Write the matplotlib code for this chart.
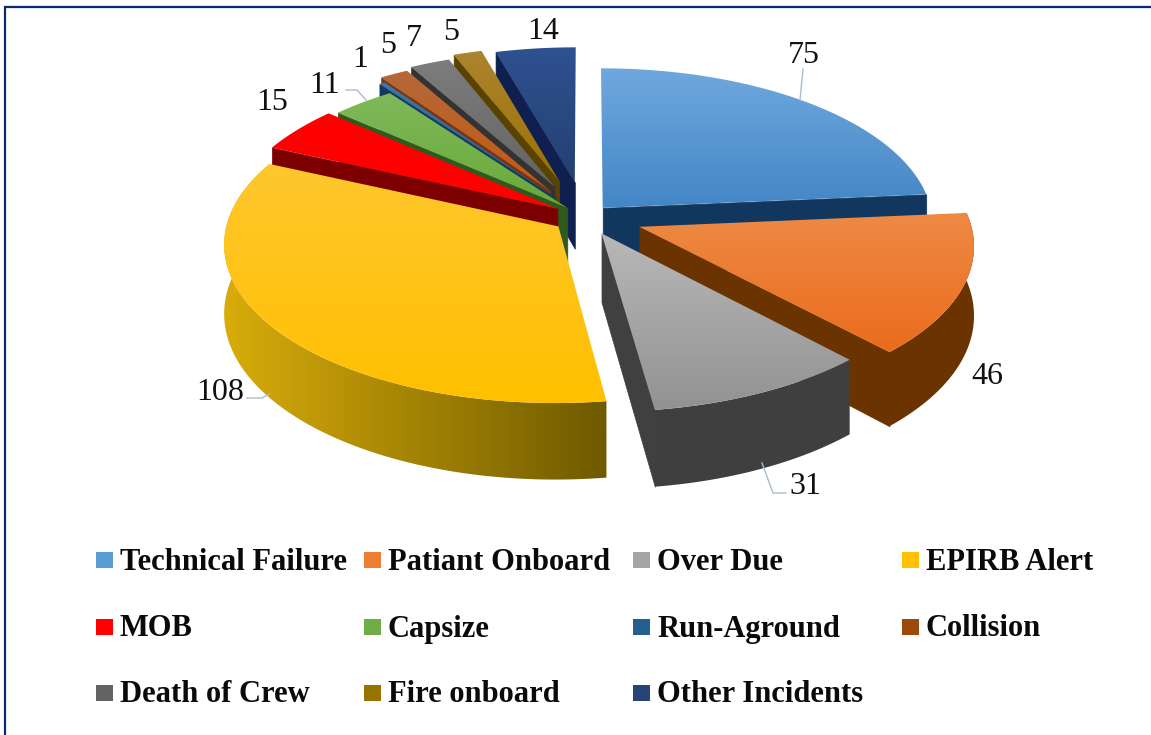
import numpy as np
import matplotlib
matplotlib.use("Agg")
import matplotlib.pyplot as plt
from matplotlib.colors import LinearSegmentedColormap
from matplotlib.patches import Polygon, Rectangle
from matplotlib.collections import PolyCollection

# ---- data ----
categories = ["Technical Failure", "Patiant Onboard", "Over Due", "EPIRB Alert", "MOB", "Capsize",
              "Run-Aground", "Collision", "Death of Crew", "Fire onboard", "Other Incidents"]
values = [75, 46, 31, 108, 15, 11, 1, 5, 7, 5, 14]

# ---- styling ----
explode = [0.08, 0.175, 0.115, 0.10, 0.10, 0.08, 0.16, 0.20, 0.22, 0.25, 0.23]
top_light = ["#6fa8de", "#ee8a45", "#b8b8b8", "#ffc72e", "#ff0000", "#7fb95a", "#3a78b0", "#b5683a", "#7d7d7d", "#ac8430", "#2f5190"]
top_dark = ["#4486c6", "#ea6c1c", "#929292", "#ffc000", "#ff0000", "#6aa838", "#255e91", "#c55a11", "#636363", "#9c7200", "#234072"]
side_left = ["#12375f", "#6b3300", "#3f3f3f", "#d8ac0a", "#7c0000", "#2f5a1e", "#123a5f", "#7a350c", "#333333", "#5a4200", "#0f1f4f"]
side_right = ["#12375f", "#6b3300", "#404040", "#6f5a00", "#7c0000", "#2f5a1e", "#123a5f", "#7a350c", "#333333", "#5a4200", "#0f1f4f"]
legend_colors = ["#5b9bd5", "#ed7d31", "#a5a5a5", "#ffc000", "#ff0000", "#70ad47", "#255e91", "#9e480e", "#636363", "#997300", "#264478"]
draw_order = [10, 9, 8, 7, 6, 5, 4, 0, 1, 2, 3]

CX, CY, RX, RY, K, DEPTH = 585, 217, 330, 156, 0.105, 68

label_pos = [(804, 53), (987, 374), (805, 484), (220, 390), (272, 100), (325, 83),
             (360, 57), (388, 43), (414, 36), (451, 30), (543, 29)]
leaders = [[(800, 100), (803, 69)], [(762, 463), (773, 493), (786, 493)],
           [(247, 398), (262, 398), (269, 394)], [(346, 90), (357, 90), (366, 100)]]
legend_cols = [96, 364, 633, 902]
legend_rows = [560, 627, 693]

serif = "Liberation Serif"
fig = plt.figure(figsize=(11.51, 7.35), dpi=100)
ax = fig.add_axes([0, 0, 1, 1])
ax.set_xlim(0, 1151)
ax.set_ylim(735, 0)
ax.axis("off")


def project(px, py, z=0.0):
    w = 1 + K * py
    return CX + RX * px / w, CY - RY * py / w + z * DEPTH / w


def fill_gradient(pts, c1, c2, horizontal, zorder):
    patch = Polygon(pts, closed=True, facecolor="none", edgecolor="none", zorder=zorder)
    ax.add_patch(patch)
    cmap = LinearSegmentedColormap.from_list("g", [c1, c2])
    grad = np.linspace(0, 1, 128)
    grad = grad.reshape(1, -1) if horizontal else grad.reshape(-1, 1)
    im = ax.imshow(grad, cmap=cmap, aspect="auto", zorder=zorder, interpolation="bilinear",
                   extent=(pts[:, 0].min(), pts[:, 0].max(), pts[:, 1].max(), pts[:, 1].min()))
    im.set_clip_path(patch)


fractions = np.array(values, float) / sum(values)
edges = np.concatenate([[0], np.cumsum(fractions)]) * 2 * np.pi
z = 1
for i in draw_order:
    a0, a1 = edges[i], edges[i + 1]
    mid = (a0 + a1) / 2
    ox, oy = explode[i] * np.sin(mid), explode[i] * np.cos(mid)
    ang = np.linspace(a0, a1, max(4, int((a1 - a0) * 60)))
    px, py = ox + np.sin(ang), oy + np.cos(ang)
    tx, ty = project(px, py)
    bx, by = project(px, py, 1)
    apx, apy = project(ox, oy)
    abx, aby = project(ox, oy, 1)
    # cut faces that turn toward the viewer
    faces = []
    if np.sin(a0) < -1e-6:
        faces.append([(apx, apy), (tx[0], ty[0]), (bx[0], by[0]), (abx, aby)])
    if np.sin(a1) > 1e-6:
        faces.append([(apx, apy), (tx[-1], ty[-1]), (bx[-1], by[-1]), (abx, aby)])
    if faces:
        ax.add_collection(PolyCollection(faces, facecolors=side_right[i], edgecolors=side_right[i],
                                         linewidths=0.5, zorder=z))
    z += 1
    # outer wall
    if np.min(np.cos(ang)) < 0.05:
        wall = np.column_stack([np.r_[tx, bx[::-1]], np.r_[ty, by[::-1]]])
        fill_gradient(wall, side_left[i], side_right[i], True, z)
    z += 1
    # top surface
    pts = np.column_stack([np.r_[apx, tx], np.r_[apy, ty]])
    fill_gradient(pts, top_light[i], top_dark[i], False, z)
    z += 1

ax.set_xlim(0, 1151)
ax.set_ylim(735, 0)

for seg in leaders:
    xs, ys = zip(*seg)
    ax.plot(xs, ys, color="#a9bccf", lw=1, zorder=z)
z += 1
for v, (x, y) in zip(values, label_pos):
    ax.text(x, y + 2, str(v), fontsize=23, family=serif, ha="center", va="center", color="#111111", zorder=z)

n_cols = len(legend_cols)
for idx, name in enumerate(categories):
    x = legend_cols[idx % n_cols]
    y = legend_rows[idx // n_cols]
    ax.add_patch(Rectangle((x, y - 8), 17, 16, facecolor=legend_colors[idx], edgecolor="none", zorder=z))
    ax.text(x + 24, y + 2, name, fontsize=22, family=serif, fontweight="bold", ha="left", va="center",
            color="#0a0a0a", zorder=z)

# page border
ax.plot([1151, 5.5, 5.5], [6.5, 6.5, 735], color="#0b2a70", lw=1.6, zorder=z, solid_joinstyle="miter")

fig.savefig("out.png", dpi=100)
